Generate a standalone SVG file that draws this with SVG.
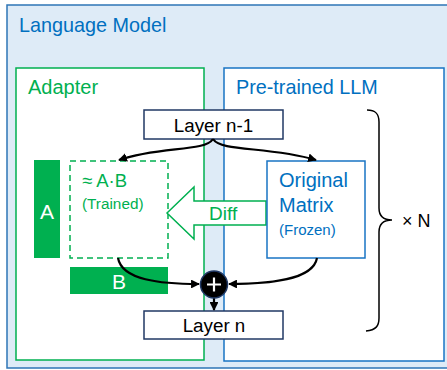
<svg xmlns="http://www.w3.org/2000/svg" width="447" height="370" viewBox="0 0 447 370">
<style>
text{font-family:"Liberation Sans",Arial,sans-serif}
.blue{fill:#0070C0}
.green{fill:#00B050}
.white{fill:#fff}
.blk{fill:#000}
.conn{fill:none;stroke:#000;stroke-width:2.2}
.layer{fill:#fff;stroke:#203864;stroke-width:1.5}
</style>
<defs>
<marker id="ah" viewBox="0 0 10 10" refX="9" refY="5" markerWidth="4" markerHeight="4" markerUnits="strokeWidth" orient="auto">
<path d="M0,0 L10,5 L0,10 z" fill="#000"/>
</marker>
</defs>
<g id="language-model">
<rect x="7" y="5" width="446" height="363" fill="#DEEBF7" stroke="#2E75B6" stroke-width="1.5"/>
<text x="19" y="32" font-size="19.8" class="blue">Language Model</text>
</g>
<g id="adapter">
<rect x="16" y="68" width="188" height="292" fill="#fff" stroke="#00B050" stroke-width="1.5"/>
<text x="28" y="94" font-size="20" class="green">Adapter</text>
</g>
<g id="pretrained">
<rect x="224" y="68" width="220" height="293" fill="#fff" stroke="#1874C4" stroke-width="1.5"/>
<text x="236" y="94" font-size="19.8" class="blue">Pre-trained LLM</text>
</g>
<g id="matrix-a">
<rect x="34" y="160" width="26" height="98" fill="#00B050"/>
<text x="47" y="219" font-size="21" text-anchor="middle" class="white">A</text>
</g>
<g id="matrix-b">
<rect x="70" y="267" width="98" height="27" fill="#00B050"/>
<text x="119" y="289" font-size="21" text-anchor="middle" class="white">B</text>
</g>
<g id="approx">
<rect x="70" y="161" width="98" height="97" fill="#fff" stroke="#00B050" stroke-width="1.5" stroke-dasharray="6,4"/>
<text x="82" y="187" font-size="18.5" class="green">≈ A·B</text>
<text x="82" y="209" font-size="15.3" class="green">(Trained)</text>
</g>
<g id="diff">
<path d="M167,213 L194,187 L194,201 L266,201 L266,225 L194,225 L194,239 Z" fill="#fff" stroke="#00B050" stroke-width="1.5"/>
<text x="209" y="220" font-size="19" class="green">Diff</text>
</g>
<g id="original">
<rect x="267" y="161" width="98" height="97" fill="#fff" stroke="#1874C4" stroke-width="1.5"/>
<text x="279" y="187" font-size="20" class="blue">Original</text>
<text x="279" y="212" font-size="20" class="blue">Matrix</text>
<text x="279" y="235" font-size="15" class="blue">(Frozen)</text>
</g>
<g id="layer-n-1">
<rect x="144" y="110" width="139" height="29" class="layer"/>
<text x="213.5" y="132" font-size="18.8" text-anchor="middle" class="blk">Layer n-1</text>
</g>
<g id="layer-n">
<rect x="144" y="311" width="139" height="28" class="layer"/>
<text x="214" y="332" font-size="18.8" text-anchor="middle" class="blk">Layer n</text>
</g>
<g id="connectors">
<path class="conn" d="M213,139 C205,152 160,146 119,160" marker-end="url(#ah)"/>
<path class="conn" d="M213,139 C221,152 268,146 316,160" marker-end="url(#ah)"/>
<path class="conn" d="M118,258 C122,280 160,284 199,284" marker-end="url(#ah)"/>
<path class="conn" d="M317,258 C313,280 270,284 229,284" marker-end="url(#ah)"/>
<path class="conn" d="M214,298 L214,310" marker-end="url(#ah)" stroke-width="1.8"/>
</g>
<g id="plus">
<circle cx="214" cy="284.5" r="13.5" fill="#000" stroke="#203864" stroke-width="1.5"/>
<path d="M214,277.5 V291.5 M207,284.5 H221" stroke="#fff" stroke-width="2.2"/>
</g>
<g id="brace">
<path d="M367,110 C376,110 379,114 379,122 L379,208 C379,215 383,220 392,220 C383,220 379,225 379,232 L379,318 C379,326 376,330 366,331" fill="none" stroke="#000" stroke-width="1.5"/>
<text x="402" y="227" font-size="18" class="blk">× N</text>
</g>
</svg>
